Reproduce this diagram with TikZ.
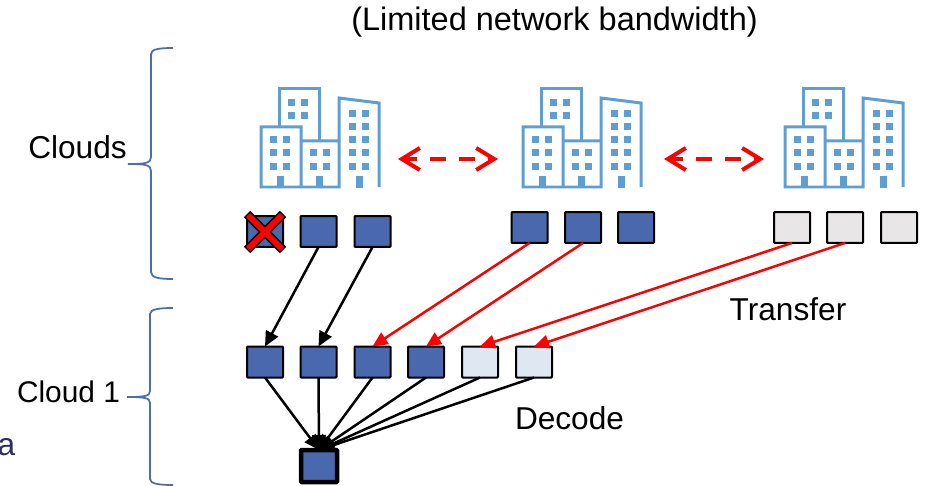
\documentclass[tikz,border=0pt]{standalone}
\usepackage{xcolor}
\usepackage{fontspec}
\setmainfont{Liberation Sans}
\usetikzlibrary{arrows.meta}
\definecolor{chunkblue}{HTML}{4A68AE}
\definecolor{chunklight}{HTML}{DFE8F2}
\definecolor{chunkgrey}{HTML}{E8E6E7}
\definecolor{iconblue}{HTML}{5F9ED5}
\definecolor{bracecol}{HTML}{4A6DB4}
\definecolor{navytext}{HTML}{2B2E5E}

\begin{document}
\begin{tikzpicture}[
  x=0.02cm, y=-0.02cm,
  every node/.append style={font=\fontsize{18}{21}\selectfont},
  chunk/.style={draw=black, line width=0.04cm, rounded corners=0.5pt, inner sep=0pt, outer sep=0pt,
    minimum width=0.72cm, minimum height=0.62cm, fill=chunkblue},
  light/.style={chunk, fill=chunklight},
  grey/.style={chunk, fill=chunkgrey},
  decoded/.style={chunk, line width=0.09cm, minimum width=0.72cm, minimum height=0.64cm},
  label/.style={inner sep=0pt, anchor=base},
  readarrow/.style={draw=black, line width=0.05cm, -{Triangle[length=0.3cm, width=0.27cm]}},
  transfer/.style={draw=red, line width=0.05cm, -{Triangle[length=0.3cm, width=0.27cm]}},
  link/.style={draw=red, line width=0.08cm, dash pattern=on 0.32cm off 0.26cm, dash phase=0.06cm,
    {Straight Barb[length=0.36cm, width=0.44cm]}-{Straight Barb[length=0.36cm, width=0.44cm]}},
  bracket/.style={draw=bracecol, line width=0.035cm},
  building/.pic={
    \draw[iconblue, line width=0.06cm, fill=white]
      (19,39) -- (19,1) -- (59,1) -- (59,53);
    \draw[iconblue, line width=0.06cm]
      (1,39) rectangle (41,99)
      (41,53) rectangle (79,99)
      (79,99) -- (79,10) -- (119,15) -- (119,99);
    \foreach \wx/\wy in {28/11,41/11,28/24,41/24,
        10/48,23/48,10/61,23/61,10/75,23/75,
        50/61,63/61,50/75,63/75,
        89/22,102/22,89/35,102/35,89/48,102/48,89/61,102/61,89/75,102/75}
      \fill[iconblue] (\wx,\wy) rectangle ++(7,7);
    \foreach \wx in {17,56,96}
      \fill[iconblue] (\wx,88) rectangle ++(6.5,12);
  }
]
\useasboundingbox (0,0) rectangle (925,486);

\node[label, font=\fontsize{18.5}{21}\selectfont] (title) at (554.5,31) {(Limited network bandwidth)};

% buildings
\pic at (260,88) {building};
\pic at (522,88) {building};
\pic at (784,88) {building};

\coordinate (linkAleft) at (398,159);
\coordinate (linkAright) at (498,159);
\coordinate (linkBleft) at (664,159);
\coordinate (linkBright) at (764,159);
\draw[link] (linkAleft) -- (linkAright);
\draw[link] (linkBleft) -- (linkBright);

% chunks in the clouds
\node[chunk] (srcA) at (265,231.5) {};
\node[chunk] (srcB) at (318.5,231.5) {};
\node[chunk] (srcC) at (372.5,231.5) {};
\node[chunk] (srcD) at (529.5,227.5) {};
\node[chunk] (srcE) at (583,227.5) {};
\node[chunk] (srcF) at (636,227.5) {};
\node[grey] (srcG) at (792,227.5) {};
\node[grey] (srcH) at (845,227.5) {};
\node[grey] (srcI) at (899,227.5) {};

% lost chunk
\foreach \cx/\cy/\dx/\dy in {247/214/283/250, 283/214/247/250}
  \draw[black, line width=0.18cm] (\cx,\cy) -- (\dx,\dy);
\foreach \cx/\cy/\dx/\dy in {248/215/282/249, 282/215/248/249}
  \draw[red, line width=0.12cm] (\cx,\cy) -- (\dx,\dy);

% chunks in cloud 1
\node[chunk] (dstA) at (265,362) {};
\node[chunk] (dstB) at (318.5,362) {};
\node[chunk] (dstC) at (372.5,362) {};
\node[chunk] (dstD) at (426,362) {};
\node[light] (dstE) at (480,362) {};
\node[light] (dstF) at (534,362) {};
\node[decoded] (result) at (319,466) {};

\draw[readarrow] (srcB.south) -- (dstA.north);
\draw[readarrow] (srcC.south) -- (dstB.north);
\draw[transfer] (srcD.south) -- (dstC.north);
\draw[transfer] (srcE.south) -- (dstD.north);
\draw[transfer] (srcG.south) -- (dstE.north);
\draw[transfer] (srcH.south) -- (dstF.north);

\foreach \from in {dstA,dstB,dstC,dstD,dstE,dstF}
  \draw[readarrow] (\from.south) -- (result.north);

% braces
\draw[bracket] (173,48) .. controls (160,48) and (151,49) .. (151,54) -- (151,157)
  .. controls (151,163) and (146,164) .. (128,164)
  .. controls (146,164) and (151,165) .. (151,171) -- (151,272)
  .. controls (151,278) and (160,279) .. (173,279);
\draw[bracket] (173,308) .. controls (160,308) and (150,309) .. (150,314) -- (150,391)
  .. controls (150,396) and (145,397) .. (127,397)
  .. controls (145,397) and (150,398) .. (150,403) -- (150,479)
  .. controls (150,484) and (160,485) .. (173,485);

\node[label] (clouds) at (77.5,158) {Clouds};
\node[label, font=\fontsize{17}{20}\selectfont] (cloudone) at (68.5,402) {Cloud 1};
\node[label] (transferlabel) at (788,320) {Transfer};
\node[label] (decodelabel) at (569.5,429) {Decode};
\node[label, text=navytext] (cutoff) at (6.5,455) {a};
\end{tikzpicture}
\end{document}
